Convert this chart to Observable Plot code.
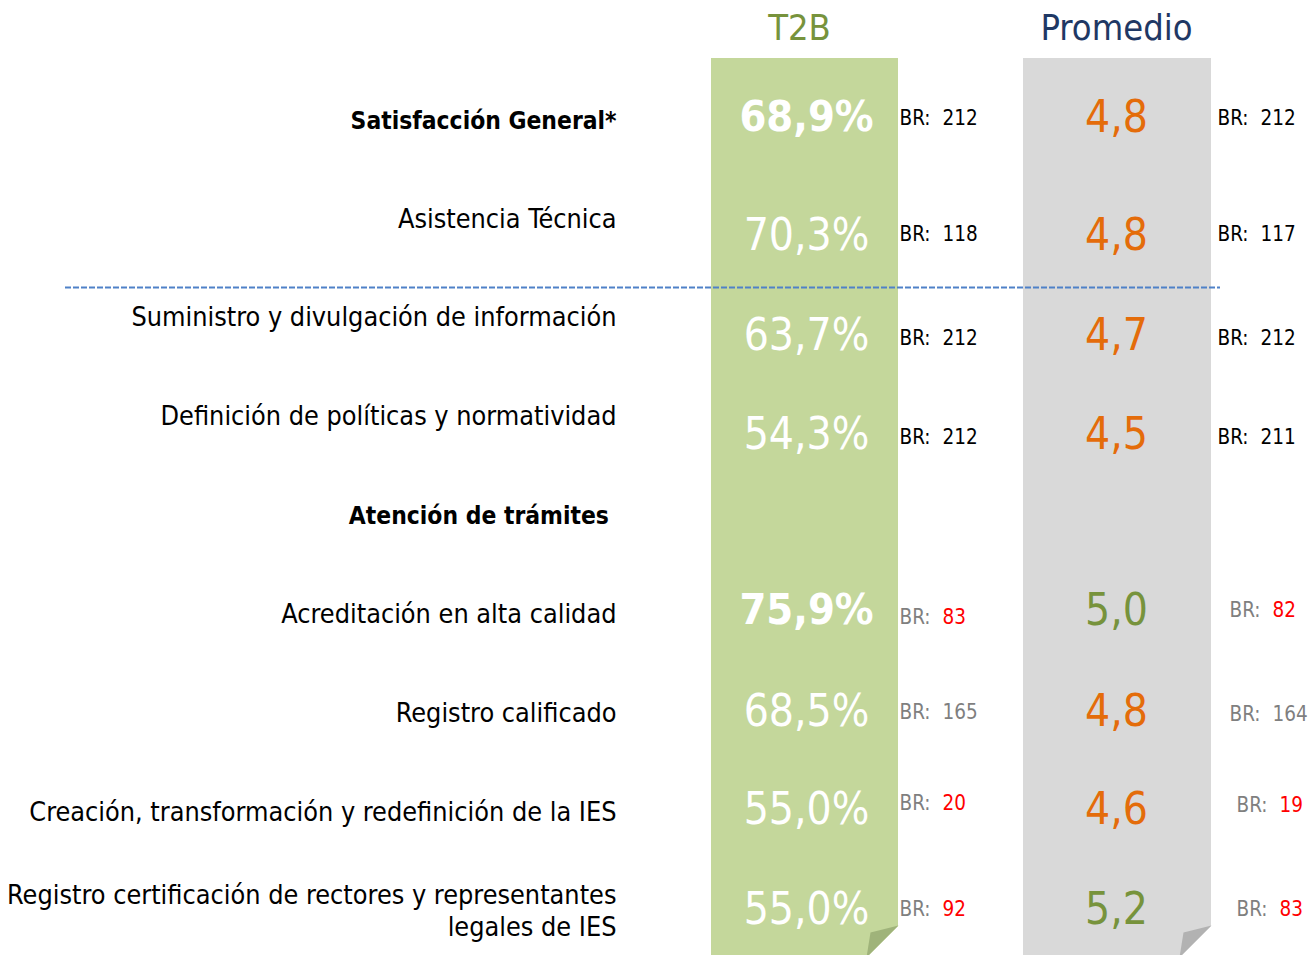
<!DOCTYPE html>
<html>
<head>
<meta charset="utf-8">
<script src="https://cdn.jsdelivr.net/npm/d3@7"></script>
<script src="https://cdn.jsdelivr.net/npm/@observablehq/plot@0.6"></script>
<style>
  html, body { margin: 0; padding: 0; background: #fff; }
  #chart svg { display: block; }
</style>
</head>
<body>
<div id="chart"></div>
<script>
// ---------- data ----------
const rows = [
  "Satisfacción General*",
  "Asistencia Técnica",
  "Suministro y divulgación de información",
  "Definición de políticas y normatividad",
  "Atención de trámites\u00a0",
  "Acreditación en alta calidad",
  "Registro calificado",
  "Creación, transformación y redefinición de la IES",
  "Registro certificación de rectores y representantes\nlegales de IES"
];
const section = ["general","general","general","general","header","tramites","tramites","tramites","tramites"];
const boldLabels = ["Satisfacción General*", "Atención de trámites\u00a0"];
const t2b      = [68.9, 70.3, 63.7, 54.3, null, 75.9, 68.5, 55.0, 55.0];
const t2bBase  = [212, 118, 212, 212, null, 83, 165, 20, 92];
const promedio = [4.8, 4.8, 4.7, 4.5, null, 5.0, 4.8, 4.6, 5.2];
const promBase = [212, 117, 212, 211, null, 82, 164, 19, 83];
const highlighted = ["Satisfacción General*", "Acreditación en alta calidad"];
const columnTitles = ["T2B", "Promedio"];

// ---------- layout (pixels) ----------
const W = 1311, H = 955;
const rowTop = 120, rowStep = 99;
const toRow = px => (px - rowTop) / rowStep;
const xLabel = 616, xT2B = 806, xT2BBR = 899, xProm = 1116;
const xPromBR = [1217,1217,1217,1217,0,1229,1229,1236,1236];
const col1 = {x1: 711, x2: 898}, col2 = {x1: 1023, x2: 1211};
const colTop = 58;
const labelShift = [-1, -2, -3, -3, -2, -3, -3, -3, -3];
const valShift  = [-3, 16, 17, 17, 0, -5, -3, -4, -3];
const brShift1  = [-2, 15, 20, 20, 0, 2, -2, -10, -3];
const brShift2  = [-2, 15, 20, 20, 0, -5, 0, -8, -3];
const titleY = 28;

// ---------- colors ----------
const C = {
  green: "#c4d79b", greenFold: "#9fb37a", gray: "#d9d9d9", grayFold: "#b2b2b2",
  t2bTitle: "#77933c", promTitle: "#1f3864", orange: "#e46c0a", goodGreen: "#77933c",
  red: "#ff0000", mute: "#7f7f7f", dash: "#4f81c8"
};
const FONT = "'DejaVu Sans Condensed', 'DejaVu Sans', sans-serif";

const table = rows.map((label, i) => ({
  i, label, section: section[i],
  t2b: t2b[i], t2bBase: t2bBase[i], prom: promedio[i], promBase: promBase[i]
}));
const valued = table.filter(d => d.t2b != null);
const fmtPct = v => v.toFixed(1).replace(".", ",") + "%";
const fmtNum = v => v.toFixed(1).replace(".", ",");
const baseColor = d => d.section === "general" ? "#000" : C.mute;
const numColor = (d, n) => n < 100 ? C.red : baseColor(d);
const isBoldLabel = d => boldLabels.includes(d.label);
const isHi = d => highlighted.includes(d.label);

function columnShapes(col, fill, fold) {
  const bottom = toRow(H + 2);
  const cutY = toRow(925), foldY = toRow(932);
  const cutX = col.x2 - 32, foldX = col.x2 - 28;
  return [
    Plot.rectY([0], {x1: col.x1, x2: col.x2, y1: toRow(colTop), y2: bottom, fill}),
    Plot.line([[cutX, bottom], [col.x2, cutY], [col.x2 + 1, bottom]], {fill: "#fff", stroke: null}),
    Plot.line([[col.x2, cutY], [foldX, foldY], [cutX, bottom]], {fill: fold, stroke: null})
  ];
}

const labelOpts = {
  x: xLabel, y: d => d.i + labelShift[d.i] / rowStep, text: "label", textAnchor: "end",
  fill: "#000", fontSize: 26.8, lineHeight: 1.19
};
const valOpts = {
  x: xT2B, y: d => d.i + valShift[d.i] / rowStep, text: d => fmtPct(d.t2b),
  fill: "#fff", fontSize: 44
};

const chart = Plot.plot({
  width: W, height: H, margin: 0,
  style: {fontFamily: FONT, background: "#fff"},
  x: {type: "linear", domain: [0, W], range: [0, W], axis: null},
  y: {type: "linear", domain: [0, rows.length - 1], range: [rowTop, rowTop + rowStep * (rows.length - 1)], axis: null},
  marks: [
    ...columnShapes(col1, C.green, C.greenFold),
    ...columnShapes(col2, C.gray, C.grayFold),
    Plot.ruleY([toRow(287)], {x1: 65, x2: 1220, stroke: C.dash, strokeWidth: 1.8, strokeDasharray: "6,2"}),
    // column titles
    Plot.text([columnTitles[0]], {x: 799, y: toRow(titleY), text: d => d, fill: C.t2bTitle, fontSize: 36}),
    Plot.text([columnTitles[1]], {x: xProm, y: toRow(titleY), text: d => d, fill: C.promTitle, fontSize: 36}),
    // row labels
    Plot.text(table.filter(d => !isBoldLabel(d)), {...labelOpts}),
    Plot.text(table.filter(isBoldLabel), {...labelOpts, fontWeight: "bold", fontSize: 24.4}),
    // T2B values
    Plot.text(valued.filter(d => !isHi(d)), {...valOpts}),
    Plot.text(valued.filter(isHi), {...valOpts, fontWeight: "bold", fontSize: 43}),
    // T2B bases
    Plot.text(valued, {
      x: xT2BBR, y: d => d.i + brShift1[d.i] / rowStep, text: () => "BR:",
      textAnchor: "start", fontSize: 20.5, fill: baseColor
    }),
    Plot.text(valued, {
      x: xT2BBR, y: d => d.i + brShift1[d.i] / rowStep, text: d => String(d.t2bBase),
      textAnchor: "start", dx: 43, fontSize: 20.5, fill: d => numColor(d, d.t2bBase)
    }),
    // Promedio values
    Plot.text(valued, {
      x: xProm, y: d => d.i + valShift[d.i] / rowStep, text: d => fmtNum(d.prom),
      fontSize: 44, fill: d => d.prom >= 5 ? C.goodGreen : C.orange
    }),
    // Promedio bases
    Plot.text(valued, {
      x: d => xPromBR[d.i], y: d => d.i + brShift2[d.i] / rowStep, text: () => "BR:",
      textAnchor: "start", fontSize: 20.5, fill: baseColor
    }),
    Plot.text(valued, {
      x: d => xPromBR[d.i], y: d => d.i + brShift2[d.i] / rowStep, text: d => String(d.promBase),
      textAnchor: "start", dx: 43, fontSize: 20.5, fill: d => numColor(d, d.promBase)
    })
  ]
});
document.getElementById("chart").appendChild(chart);
</script>
</body>
</html>
